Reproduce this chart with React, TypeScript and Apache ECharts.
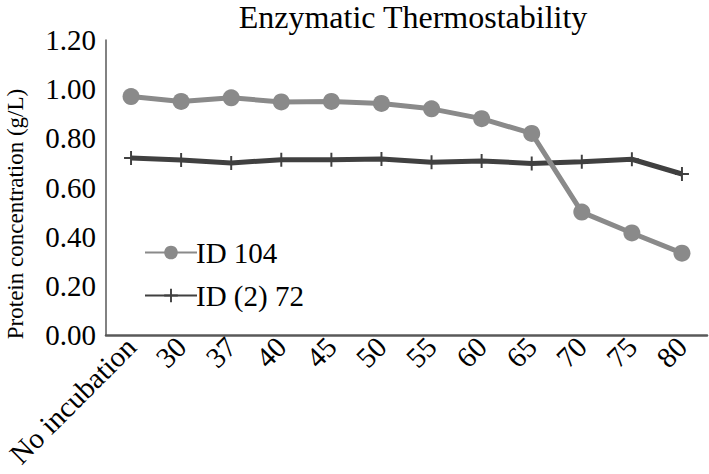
import React, { useEffect, useRef } from "react";
import * as echarts from "echarts";

const categories = ["No incubation", "30", "37", "40", "45", "50", "55", "60", "65", "70", "75", "80"];
const id104 = [0.97, 0.95, 0.965, 0.948, 0.95, 0.942, 0.92, 0.88, 0.82, 0.5, 0.415, 0.333];
const id272 = [0.72, 0.712, 0.7, 0.713, 0.713, 0.716, 0.703, 0.708, 0.698, 0.705, 0.715, 0.655];
const yTicks = [0, 0.2, 0.4, 0.6, 0.8, 1.0, 1.2];

const FONT = "Liberation Serif";
const PLUS = "path://M4.3,0h1.4v4.3h4.3v1.4h-4.3v4.3h-1.4v-4.3h-4.3v-1.4h4.3z";

export default function App() {
  const ref = useRef<HTMLDivElement>(null);
  useEffect(() => {
    const chart = echarts.init(ref.current!, null, { renderer: "svg" });
    chart.setOption({
      animation: false,
      backgroundColor: "#ffffff",
      title: {
        text: "Enzymatic Thermostability",
        left: 413,
        textAlign: "center",
        top: 1,
        padding: 0,
        textStyle: { fontFamily: FONT, fontSize: 32, lineHeight: 32, fontWeight: "normal", color: "#000" },
      },
      graphic: [
        {
          type: "text",
          x: 15,
          y: 214,
          rotation: Math.PI / 2,
          style: {
            text: "Protein concentration (g/L)",
            fontFamily: FONT,
            fontSize: 23,
            fill: "#000",
            align: "center",
            verticalAlign: "middle",
          },
        },
      ],
      grid: { left: 106, right: 2, top: 40, bottom: 139, outerBoundsMode: "none", containLabel: false },
      legend: {
        orient: "vertical",
        left: 139,
        top: 233,
        itemWidth: 52,
        itemHeight: 17,
        itemGap: 14,
        textStyle: { fontFamily: FONT, fontSize: 29, color: "#000", padding: [0, 0, 0, -6] },
        data: ["ID 104", "ID (2) 72"],
      },
      xAxis: {
        type: "category",
        data: categories,
        boundaryGap: true,
        axisLine: { lineStyle: { color: "#595959", width: 2.5 } },
        axisTick: { show: false },
        axisLabel: {
          rotate: 45,
          interval: 0,
          margin: 7,
          fontFamily: FONT,
          fontSize: 29,
          color: "#000",
        },
      },
      yAxis: {
        type: "value",
        min: 0,
        max: 1.2,
        interval: 0.2,
        axisLine: { show: true, lineStyle: { color: "#595959", width: 1.5 } },
        axisTick: { show: false },
        splitLine: { show: false },
        axisLabel: {
          fontFamily: FONT,
          fontSize: 29,
          color: "#000",
          margin: 10,
          formatter: (v: number) => (yTicks.includes(Math.round(v * 10) / 10) ? v.toFixed(2) : ""),
        },
      },
      series: [
        {
          name: "ID 104",
          type: "line",
          data: id104,
          symbol: "circle",
          symbolSize: 17,
          lineStyle: { color: "#8a8a8a", width: 5 },
          itemStyle: { color: "#8a8a8a" },
          z: 3,
        },
        {
          name: "ID (2) 72",
          type: "line",
          data: id272,
          symbol: PLUS,
          symbolSize: 14,
          lineStyle: { color: "#404040", width: 5 },
          itemStyle: { color: "#404040" },
          z: 2,
        },
      ],
    });
    return () => chart.dispose();
  }, []);
  return <div ref={ref} style={{ width: 709, height: 474, position: "absolute", left: 0, top: 0 }} />;
}
